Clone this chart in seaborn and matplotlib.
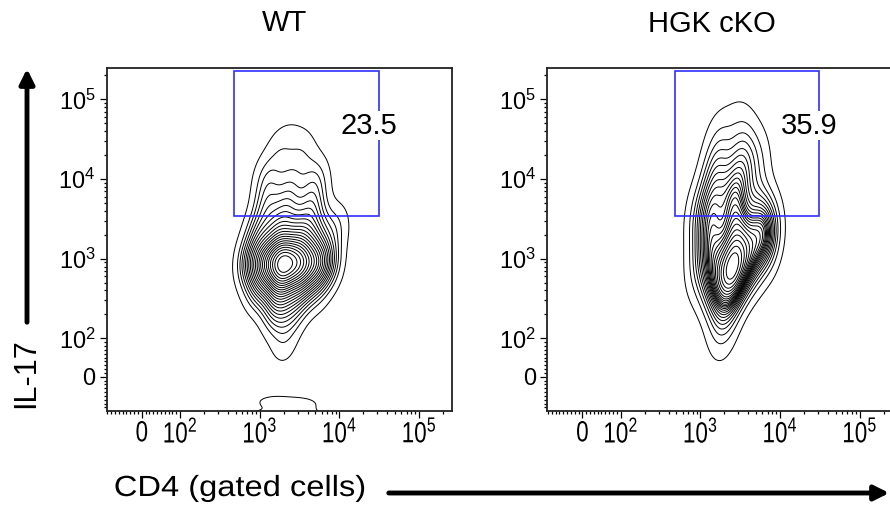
import numpy as np
import pandas as pd
import matplotlib
matplotlib.use('Agg')
import matplotlib.pyplot as plt
import matplotlib.patheffects as pe
from matplotlib.patches import Rectangle, FancyArrowPatch
from matplotlib.transforms import Affine2D
import seaborn as sns

sns.set_theme(style='white')
plt.rcParams['font.family'] = ['Liberation Sans', 'DejaVu Sans']
plt.rcParams['mathtext.fontset'] = 'custom'
plt.rcParams['mathtext.rm'] = 'Liberation Sans'
plt.rcParams['text.color'] = 'black'
plt.rcParams['xtick.color'] = 'black'
plt.rcParams['ytick.color'] = 'black'

titles = ['WT', 'HGK cKO']
gate_pct = ['23.5', '35.9']
gate_cd4 = [480, 31000]
gate_il17 = [3400, 230000]
tick_labels = ['0', r'$\mathregular{10^2}$', r'$\mathregular{10^3}$',
               r'$\mathregular{10^4}$', r'$\mathregular{10^5}$']

# density anchors (log10 of fluorescence) + weight
wt_cd4 = [2.90, 3.10, 3.30, 3.50, 3.70, 3.85,
          3.00, 3.25, 3.50, 3.70,
          3.00, 3.25, 3.50, 3.70, 3.95,
          3.20, 3.40,
          3.10, 3.35, 3.65,
          3.10, 3.40, 3.70,
          3.25, 3.55,
          3.40,
          3.30]
wt_il17 = [2.95, 2.95, 2.95, 2.95, 2.95, 2.95,
           2.65, 2.65, 2.65, 2.65,
           3.30, 3.30, 3.30, 3.30, 3.40,
           2.35, 2.35,
           3.65, 3.65, 3.65,
           4.00, 4.00, 4.00,
           4.35, 4.35,
           4.55,
           1.95]
wt_w = [8, 18, 30, 22, 14, 6,
        6, 12, 8, 3,
        6, 10, 10, 6, 3,
        5, 4,
        5, 6, 6,
        3.5, 3, 3.5,
        2, 2,
        0.8,
        2]
# events piled up below zero (WT only)
wt_low_cd4 = [3.00, 3.20, 3.35, 3.50, 3.65]
wt_low_il17 = [1.05, 1.20, 1.05, 1.18, 1.05]
wt_low_w = [1, 2, 2, 2, 1]

ko_cd4 = [3.40, 3.20, 3.60, 3.80, 3.15, 3.45, 3.70, 3.15, 3.42, 3.20, 3.50,
          3.25, 3.55, 3.30, 3.25, 3.00, 3.00, 3.70, 3.45]
ko_il17 = [2.85, 2.75, 3.05, 3.30, 3.20, 3.35, 3.60, 3.65, 3.75, 4.05, 4.10,
           4.45, 4.45, 2.40, 2.05, 3.50, 2.90, 4.20, 4.70]
ko_w = [28, 12, 14, 14, 10, 12, 5, 8, 10, 6, 6, 2.5, 2.5, 6, 1.5, 4, 4, 3, 1]

zero_pos = 1.52
x_lim = (1.08, 5.41)
y_lim = (1.09, 5.39)

major = [zero_pos, 2, 3, 4, 5]
minor = [np.log10(k * 10.0 ** d) for d in [2, 3, 4, 5] for k in range(2, 10)]
minor += [zero_pos + v / 100 * (2 - zero_pos) for v in range(-90, 100, 10) if v != 0]
minor = [m for m in minor if x_lim[0] < m < y_lim[1]]


class Squeeze(pe.AbstractPathEffect):
    # horizontal stretch of a text around its own centre
    def __init__(self, sx):
        super().__init__()
        self.sx = sx

    def draw_path(self, renderer, gc, tpath, affine, rgbFace=None):
        ext = tpath.get_extents(affine)
        cx = (ext.x0 + ext.x1) / 2
        t = affine + Affine2D().translate(-cx, 0).scale(self.sx, 1).translate(cx, 0)
        renderer.draw_path(gc, tpath, t, rgbFace)


fig = plt.figure(figsize=(8.9, 5.13), dpi=100)
W, H = 890, 513


def px(x0, y0, x1, y1):
    return [x0 / W, 1 - y1 / H, (x1 - x0) / W, (y1 - y0) / H]


ax1 = fig.add_axes(px(106.7, 68.3, 451.7, 411))
ax2 = fig.add_axes(px(547.3, 68.3, 892.3, 411))

panels = [
    (ax1, pd.DataFrame({'cd4': wt_cd4, 'il17': wt_il17, 'w': wt_w}), 0.75),
    (ax2, pd.DataFrame({'cd4': ko_cd4, 'il17': ko_il17, 'w': ko_w}), 0.8),
]

for i, (ax, df, bw) in enumerate(panels):
    sns.kdeplot(data=df, x='cd4', y='il17', weights='w', levels=24, thresh=0.02,
                bw_adjust=bw, color='black', linewidths=0.7, ax=ax)
    if i == 0:
        low = pd.DataFrame({'cd4': wt_low_cd4, 'il17': wt_low_il17, 'w': wt_low_w})
        sns.kdeplot(data=low, x='cd4', y='il17', weights='w', levels=2, thresh=0.25,
                    bw_adjust=0.9, color='black', linewidths=0.7, ax=ax)

    gx = np.log10(gate_cd4)
    gy = np.log10(gate_il17)
    ax.add_patch(Rectangle((gx[0], gy[0]), gx[1] - gx[0], gy[1] - gy[0],
                           fill=False, edgecolor='#2f2fff', lw=1.2, zorder=3))
    ax.text(0.76, 0.832, gate_pct[i], transform=ax.transAxes, fontsize=21,
            ha='center', va='center', zorder=4,
            bbox=dict(facecolor='white', edgecolor='none', pad=0.5))

    ax.set_xticks(major)
    ax.set_xticks(minor, minor=True)
    ax.set_yticks(major)
    ax.set_yticks(minor, minor=True)
    ax.set_xlim(x_lim)
    ax.set_ylim(y_lim)
    ax.set_xticklabels(tick_labels, fontsize=21)
    for lbl in ax.get_xticklabels():
        lbl.set_path_effects([Squeeze(0.77)])
    ax.set_yticklabels(tick_labels, fontsize=17)
    ax.set_xlabel('')
    ax.set_ylabel('')
    ax.tick_params(which='both', direction='out', color='black', width=0.9,
                   bottom=True, left=True)
    ax.tick_params(axis='x', which='major', length=5, pad=1)
    ax.tick_params(axis='y', which='major', length=5, pad=3)
    ax.tick_params(which='minor', length=2.5)
    for s in ax.spines.values():
        s.set_color('#222222')
        s.set_linewidth(1.3)

fig.text(285 / W, 1 - 23 / H, titles[0], fontsize=21, ha='center', va='center')
fig.text(712 / W, 1 - 24 / H, titles[1], fontsize=21, ha='center', va='center')
fig.text(26 / W, 1 - 373 / H, 'IL-17', fontsize=22, rotation=90,
         ha='center', va='center')
fig.text(240 / W, 1 - 488 / H, 'CD4 (gated cells)', fontsize=21,
         ha='center', va='center', path_effects=[Squeeze(1.12)])

fig.add_artist(FancyArrowPatch((27 / W, 1 - 325 / H), (27 / W, 1 - 66 / H),
                               transform=fig.transFigure, arrowstyle='-|>',
                               mutation_scale=22, lw=3.5, color='black'))
fig.add_artist(FancyArrowPatch((386 / W, 1 - 493 / H), (892 / W, 1 - 493 / H),
                               transform=fig.transFigure, arrowstyle='-|>',
                               mutation_scale=22, lw=3.5, color='black'))

fig.savefig('out.png', dpi=100)
